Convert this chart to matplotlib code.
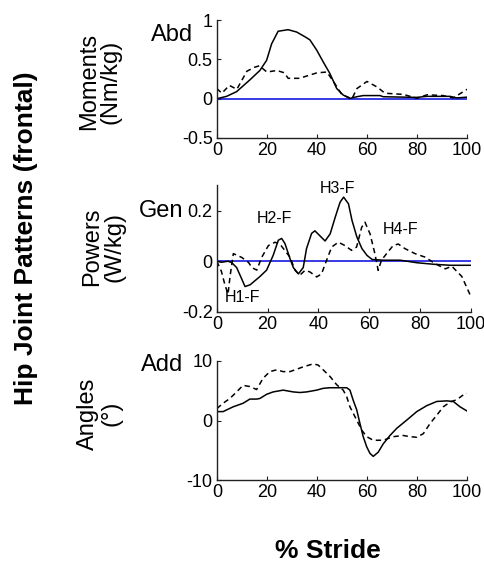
import numpy as np
import matplotlib
matplotlib.use("Agg")
import matplotlib.pyplot as plt
from matplotlib.ticker import FuncFormatter

plt.rcParams['font.family'] = ['Liberation Sans', 'DejaVu Sans']

# ---- Hip frontal-plane moments (Nm/kg) ----
mom_solid_x = [0, 3.9, 7.9, 13.2, 17.2, 19.9, 21.9, 24.5, 28.5, 31.9, 35.2, 37.2, 39.9,
               42.5, 45.2, 47.9, 50.5, 53.2, 55.9, 58.5, 65.2, 66.5, 79.9, 83.9, 93.2, 95.9, 100]
mom_solid_y = [0.0, 0.03, 0.09, 0.24, 0.36, 0.49, 0.70, 0.86, 0.88, 0.85, 0.79, 0.75, 0.62,
               0.47, 0.32, 0.13, 0.047, 0.004, 0.025, 0.04, 0.04, 0.025, 0.017, 0.03, 0.03, 0.01, 0.02]
mom_dash_x = [0, 2, 5, 8, 12, 15, 17, 20, 24, 27, 28.5, 30, 33, 37, 40, 44, 47, 50, 54,
              56, 60, 64, 67.2, 74.5, 80, 84, 90.5, 94.5, 100]
mom_dash_y = [0.13, 0.07, 0.17, 0.12, 0.35, 0.40, 0.42, 0.34, 0.36, 0.33, 0.26, 0.26, 0.26,
              0.30, 0.33, 0.34, 0.20, 0.05, 0.0, 0.13, 0.22, 0.15, 0.07, 0.055, 0.005, 0.05,
              0.04, 0.01, 0.12]

# ---- Hip frontal-plane powers (W/kg) ----
pow_solid_x = [0, 1.8, 4.4, 5.8, 7.8, 9.8, 11.1, 13.1, 17, 19.6, 22.2, 24.2, 25.5, 26.8, 28.8,
               30.1, 32.1, 34.0, 35.3, 37.3, 38.6, 40.6, 42.6, 44.6, 46.6, 48.5, 49.9, 51.8,
               53.2, 55.1, 57.1, 59.1, 61.1, 65.7, 72.2, 78.8, 85.4, 91.9, 100]
pow_solid_y = [0.0, -0.004, 0.0, -0.005, -0.025, -0.07, -0.1, -0.093, -0.06, -0.035, 0.024,
               0.083, 0.09, 0.07, 0.01, -0.025, -0.05, -0.025, 0.05, 0.11, 0.12, 0.10, 0.08,
               0.108, 0.174, 0.233, 0.253, 0.227, 0.161, 0.096, 0.05, 0.023, 0.007, 0.004,
               0.004, -0.006, -0.012, -0.016, -0.016]
pow_dash_x = [0, 1.8, 3.1, 4.4, 5.2, 6.5, 9.8, 12.5, 13.8, 15.7, 17.7, 20.3, 22.9, 24.8, 26.8,
              28.8, 30.8, 32.7, 34.7, 36.6, 39.3, 41.2, 43.2, 45.2, 47.8, 50.4, 53, 55, 57,
              58.3, 60.3, 62.2, 63.5, 64.8, 66.8, 69.4, 71.4, 74, 78, 82, 86, 89.9, 92.5,
              96.4, 99.1, 100]
pow_dash_y = [0.0, -0.04, -0.09, -0.13, -0.06, 0.03, 0.015, -0.005, -0.025, -0.035, 0.016,
              0.062, 0.075, 0.068, 0.042, 0.016, -0.036, -0.055, -0.036, -0.042, -0.062,
              -0.05, 0.004, 0.056, 0.075, 0.062, 0.043, 0.056, 0.134, 0.154, 0.108, 0.03,
              -0.036, 0.004, 0.03, 0.062, 0.068, 0.05, 0.03, 0.016, -0.01, -0.03, -0.02,
              -0.06, -0.12, -0.14]
pow_labels = ["H1-F", "H2-F", "H3-F", "H4-F"]
pow_label_x = [10, 22.5, 47.4, 72.4]
pow_label_y = [-0.142, 0.17, 0.287, 0.126]

# ---- Hip frontal-plane angles (deg) ----
ang_solid_x = [0, 2.5, 6.5, 10.5, 13.2, 15.9, 17.2, 19.9, 22.5, 26.5, 30.5, 33.2, 35.9, 39.9,
               42.5, 45.2, 51.9, 53.2, 54.5, 55.9, 57.2, 58.5, 59.9, 61.2, 62.5, 64.5, 66.5,
               69.2, 71.9, 75.9, 79.9, 83.9, 87.9, 91.9, 94.5, 97.2, 100]
ang_solid_y = [1.5, 1.5, 2.3, 2.9, 3.6, 3.6, 3.7, 4.4, 4.8, 5.1, 4.8, 4.7, 4.8, 5.1, 5.4, 5.5,
               5.5, 5.1, 3.4, 1.8, -0.5, -2.7, -4.4, -5.5, -6.0, -5.3, -3.9, -2.5, -1.3, 0.08,
               1.5, 2.5, 3.2, 3.3, 3.2, 2.3, 1.6]
ang_dash_x = [0, 2.5, 5.2, 7.9, 10.5, 13.2, 15.9, 18.5, 21.2, 23.9, 26.5, 29.2, 31.9, 34.5,
              38.5, 40.5, 42.5, 45.2, 47.9, 50.5, 51.9, 53.2, 55.9, 57.9, 59.9, 62.5, 66.5,
              70.5, 74.5, 77.2, 79.9, 82.5, 85.2, 87.9, 90.5, 93.2, 95.9, 98.5, 100]
ang_dash_y = [2.0, 2.9, 3.7, 4.8, 5.9, 5.7, 5.2, 7.1, 8.2, 8.5, 8.2, 8.2, 8.6, 9.0, 9.5, 9.3,
              8.5, 7.4, 6.0, 5.1, 4.0, 2.3, 0.08, -1.6, -2.7, -3.3, -3.3, -2.7, -2.5, -2.7,
              -2.8, -2.2, -0.5, 0.9, 2.3, 3.1, 3.5, 4.3, 4.5]

x_ticks = [0, 20, 40, 60, 80, 100]

fig = plt.figure(figsize=(4.84, 5.63), dpi=100)

ax_m = fig.add_axes([0.448, 0.755, 0.517, 0.209])
ax_p = fig.add_axes([0.448, 0.446, 0.525, 0.225])
ax_a = fig.add_axes([0.448, 0.147, 0.517, 0.212])

line_kw = dict(color='black', lw=1.1)
dash_kw = dict(color='black', lw=1.1, ls=(0, (3.5, 2.5)))
zero_kw = dict(color='#1818e0', lw=1.2)

ax_m.plot(x_ticks[:1] + x_ticks[-1:], [0, 0], **zero_kw)
ax_m.plot(mom_dash_x, mom_dash_y, **dash_kw)
ax_m.plot(mom_solid_x, mom_solid_y, **line_kw)
ax_m.set_ylim(-0.5, 1)
ax_m.set_yticks([-0.5, 0, 0.5, 1])

ax_p.plot(x_ticks[:1] + x_ticks[-1:], [0, 0], **zero_kw)
ax_p.plot(pow_dash_x, pow_dash_y, **dash_kw)
ax_p.plot(pow_solid_x, pow_solid_y, **line_kw)
ax_p.set_ylim(-0.2, 0.3)
ax_p.set_yticks([-0.2, 0, 0.2])
for lab, lx, ly in zip(pow_labels, pow_label_x, pow_label_y):
    ax_p.text(lx, ly, lab, fontsize=11.5, ha='center', va='center')

ax_a.plot(ang_dash_x, ang_dash_y, **dash_kw)
ax_a.plot(ang_solid_x, ang_solid_y, **line_kw)
ax_a.set_ylim(-10, 10)
ax_a.set_yticks([-10, 0, 10])

fmt = FuncFormatter(lambda v, p: ('%g' % v))
for ax in (ax_m, ax_p, ax_a):
    ax.set_xlim(0, 100)
    ax.set_xticks(x_ticks)
    ax.yaxis.set_major_formatter(fmt)
    ax.spines['top'].set_visible(False)
    ax.spines['right'].set_visible(False)
    for s in ('left', 'bottom'):
        ax.spines[s].set_color('#222222')
        ax.spines[s].set_linewidth(1.0)
    ax.tick_params(direction='in', length=3, width=0.8, labelsize=13,
                   color='#222222', pad=3)
    ax.patch.set_alpha(0)

# Row labels
fig.text(0.206, 0.855, "Moments\n(Nm/kg)", rotation=90, ha='center', va='center',
         fontsize=17, linespacing=1.0)
fig.text(0.213, 0.561, "Powers\n(W/kg)", rotation=90, ha='center', va='center',
         fontsize=17, linespacing=1.0)
fig.text(0.206, 0.265, "Angles\n(°)", rotation=90, ha='center', va='center',
         fontsize=17, linespacing=1.05)

# Direction labels
fig.text(0.356, 0.938, "Abd", ha='center', va='center', fontsize=17)
fig.text(0.333, 0.625, "Gen", ha='center', va='center', fontsize=17)
fig.text(0.335, 0.352, "Add", ha='center', va='center', fontsize=17)

fig.text(0.054, 0.577, "Hip Joint Patterns (frontal)", rotation=90, ha='center',
         va='center', fontsize=19, fontweight='bold')
fig.text(0.678, 0.022, "% Stride", ha='center', va='center', fontsize=19,
         fontweight='bold')

fig.savefig("out.png", dpi=100)
